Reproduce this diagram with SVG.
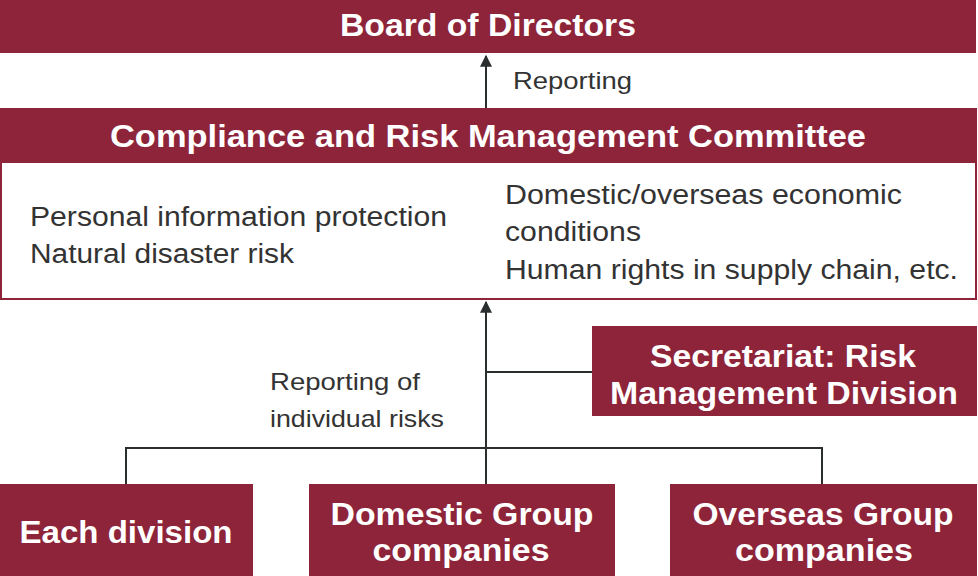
<svg xmlns="http://www.w3.org/2000/svg" width="978" height="576" viewBox="0 0 978 576">
<style>
.box{fill:#8e2439}
.t{font-family:"Liberation Sans",Arial,sans-serif;font-weight:bold;fill:#fff;font-size:31px;text-anchor:middle}
.b{font-family:"Liberation Sans",Arial,sans-serif;fill:#333;font-size:27px}
.l{font-family:"Liberation Sans",Arial,sans-serif;fill:#333;font-size:24px}
.c{stroke:#2a2e2e;stroke-width:2;fill:none}
</style>
<defs>
<marker id="ah2" viewBox="0 0 10 10" refX="9" refY="5" markerWidth="16" markerHeight="12" markerUnits="userSpaceOnUse" orient="auto">
<path d="M0,0 L10,5 L0,10 z" fill="#2a2e2e"/>
</marker>
</defs>
<rect width="978" height="576" fill="#fff"/>
<g id="connectors">
<line class="c" x1="486" y1="108" x2="486" y2="56" marker-end="url(#ah2)"/>
<line class="c" x1="486" y1="484" x2="486" y2="302" marker-end="url(#ah2)"/>
<line class="c" x1="486" y1="372" x2="592" y2="372"/>
<polyline class="c" points="126,484 126,448 822,448 822,484"/>
</g>
<g id="board">
<rect class="box" x="0" y="0" width="976" height="53"/>
<text class="t" x="488" y="36" textLength="296" lengthAdjust="spacingAndGlyphs">Board of Directors</text>
</g>
<text class="l" x="513" y="89" textLength="119" lengthAdjust="spacingAndGlyphs">Reporting</text>
<g id="committee">
<rect x="1" y="162" width="975" height="137" fill="#fff" stroke="#8e2439" stroke-width="2"/>
<rect class="box" x="0" y="108" width="977" height="55"/>
<text class="t" x="488" y="147" textLength="756" lengthAdjust="spacingAndGlyphs">Compliance and Risk Management Committee</text>
<text class="b" x="30" y="226" textLength="417" lengthAdjust="spacingAndGlyphs">Personal information protection</text>
<text class="b" x="30" y="263" textLength="264" lengthAdjust="spacingAndGlyphs">Natural disaster risk</text>
<text class="b" x="505" y="204" textLength="397" lengthAdjust="spacingAndGlyphs">Domestic/overseas economic</text>
<text class="b" x="505" y="241" textLength="136" lengthAdjust="spacingAndGlyphs">conditions</text>
<text class="b" x="505" y="279" textLength="453" lengthAdjust="spacingAndGlyphs">Human rights in supply chain, etc.</text>
</g>
<g id="secretariat">
<rect class="box" x="592" y="326" width="385" height="90"/>
<text class="t" x="783" y="367" textLength="266" lengthAdjust="spacingAndGlyphs">Secretariat: Risk</text>
<text class="t" x="784" y="404" textLength="348" lengthAdjust="spacingAndGlyphs">Management Division</text>
</g>
<text class="l" x="270" y="390" textLength="150" lengthAdjust="spacingAndGlyphs">Reporting of</text>
<text class="l" x="270" y="427" textLength="174" lengthAdjust="spacingAndGlyphs">individual risks</text>
<g id="each-division">
<rect class="box" x="0" y="484" width="253" height="92"/>
<text class="t" x="126" y="543" textLength="213" lengthAdjust="spacingAndGlyphs">Each division</text>
</g>
<g id="domestic">
<rect class="box" x="309" y="484" width="306" height="92"/>
<text class="t" x="462" y="525" textLength="263" lengthAdjust="spacingAndGlyphs">Domestic Group</text>
<text class="t" x="461" y="561" textLength="177" lengthAdjust="spacingAndGlyphs">companies</text>
</g>
<g id="overseas">
<rect class="box" x="670" y="484" width="307" height="92"/>
<text class="t" x="823" y="525" textLength="261" lengthAdjust="spacingAndGlyphs">Overseas Group</text>
<text class="t" x="824" y="561" textLength="178" lengthAdjust="spacingAndGlyphs">companies</text>
</g>
</svg>
